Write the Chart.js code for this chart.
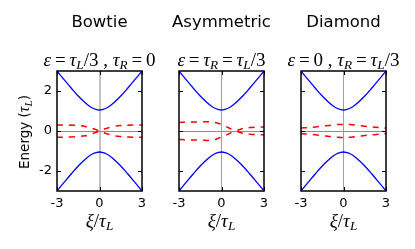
<!DOCTYPE html>
<html>
<head>
<meta charset="utf-8">
<script src="https://cdn.jsdelivr.net/npm/chart.js@4.4.0/dist/chart.umd.min.js"></script>
<style>
  body { margin: 0; background: #fff; }
  #wrap { position: relative; width: 415px; height: 249px; overflow: hidden; }
  canvas { position: absolute; top: 0; }
  .txt { position: absolute; transform: translate(-50%, -50%); white-space: nowrap; line-height: 1; color: #000; }
  .title { font-family: "DejaVu Sans", sans-serif; font-size: 16.5px; }
  .math { font-family: "Liberation Serif", serif; font-size: 19px; }
  .math i { font-style: italic; }
  .math sub { font-size: 70%; font-style: italic; vertical-align: -0.3em; line-height: 0; }
  .op { margin: 0 0.2em; }
  .ylab { font-family: "DejaVu Sans", sans-serif; font-size: 13.5px; transform: translate(-50%, -50%) rotate(-90deg); }
</style>
</head>
<body>
<div id="wrap"></div>
<script>
// shared x samples (xi / tau_L)
const xi = [-3, -2.5, -2, -1.5, -1, -0.75, -0.5, -0.25, 0, 0.25, 0.5, 0.75, 1, 1.5, 2, 2.5, 3];
const xTicks = [-3, 0, 3];
const yTicks = [-2, 0, 2];

// blue bands
const bandUp   = [3.0, 2.57, 2.15, 1.75, 1.41, 1.26, 1.15, 1.08, 1.05, 1.08, 1.15, 1.26, 1.41, 1.75, 2.15, 2.57, 3.0];
const bandDown = [-3.0, -2.57, -2.15, -1.75, -1.41, -1.26, -1.15, -1.08, -1.05, -1.08, -1.15, -1.26, -1.41, -1.75, -2.15, -2.57, -3.0];

// red dashed states, one pair per panel
const bowtieUp   = [0.3, 0.3, 0.29, 0.27, 0.23, 0.19, 0.13, 0.07, 0, 0.07, 0.13, 0.19, 0.23, 0.27, 0.29, 0.3, 0.3];
const bowtieDown = [-0.31, -0.31, -0.3, -0.28, -0.24, -0.19, -0.13, -0.07, 0, -0.07, -0.13, -0.19, -0.24, -0.28, -0.3, -0.31, -0.31];
const asymA = [0.43, 0.44, 0.45, 0.46, 0.46, 0.45, 0.43, 0.39, 0.33, 0.25, 0.16, 0.08, 0, -0.11, -0.16, -0.18, -0.19];
const asymB = [-0.42, -0.44, -0.45, -0.46, -0.47, -0.46, -0.43, -0.37, -0.3, -0.23, -0.15, -0.07, 0, 0.12, 0.17, 0.19, 0.2];
const diamondUp   = [0.15, 0.17, 0.2, 0.24, 0.28, 0.3, 0.32, 0.33, 0.33, 0.33, 0.32, 0.3, 0.28, 0.24, 0.2, 0.17, 0.15];
const diamondDown = [-0.13, -0.16, -0.19, -0.23, -0.27, -0.29, -0.31, -0.32, -0.33, -0.32, -0.31, -0.29, -0.27, -0.23, -0.19, -0.16, -0.13];

const names = ['Bowtie', 'Asymmetric', 'Diamond'];
const subtitles = [
  '<i>ε</i><span class="op">=</span><i>τ</i><sub>L</sub>/3 , <i>τ</i><sub>R</sub><span class="op">=</span>0',
  '<i>ε</i><span class="op">=</span><i>τ</i><sub>R</sub><span class="op">=</span><i>τ</i><sub>L</sub>/3',
  '<i>ε</i><span class="op">=</span>0 , <i>τ</i><sub>R</sub><span class="op">=</span><i>τ</i><sub>L</sub>/3'
];
const reds = [[bowtieUp, bowtieDown], [asymA, asymB], [diamondUp, diamondDown]];

const panelLeft = [57, 179, 301];
const panelW = 85, axisW = 50, padTop = 71, xAxisH = 58, H = 249;

function pts(ys) { return xi.map((x, i) => ({ x: x, y: ys[i] })); }

const frame = {
  id: 'frame',
  afterDatasetsDraw(chart) {
    const { ctx, chartArea: a, scales: { x, y } } = chart;
    ctx.save();
    ctx.strokeStyle = '#000';
    ctx.lineWidth = 1;
    ctx.beginPath();
    yTicks.forEach(v => {
      const py = Math.round(y.getPixelForValue(v)) + 0.5;
      ctx.moveTo(a.left, py); ctx.lineTo(a.left + 4, py);
      ctx.moveTo(a.right, py); ctx.lineTo(a.right - 4, py);
    });
    xTicks.forEach(v => {
      const px = Math.round(x.getPixelForValue(v)) + 0.5;
      ctx.moveTo(px, a.top); ctx.lineTo(px, a.top + 4);
      ctx.moveTo(px, a.bottom); ctx.lineTo(px, a.bottom - 4);
    });
    ctx.stroke();
    ctx.lineWidth = 1.5;
    ctx.strokeRect(a.left, a.top, a.right - a.left, a.bottom - a.top);
    ctx.restore();
  }
};

const wrap = document.getElementById('wrap');

function addText(cls, html, x, y) {
  const d = document.createElement('div');
  d.className = 'txt ' + cls;
  d.innerHTML = html;
  d.style.left = x + 'px';
  d.style.top = y + 'px';
  wrap.appendChild(d);
}

names.forEach((name, p) => {
  const cv = document.createElement('canvas');
  const w = axisW + panelW + 40;
  cv.width = w; cv.height = H;
  cv.style.left = (panelLeft[p] - axisW) + 'px';
  wrap.appendChild(cv);

  const first = p === 0;
  new Chart(cv, {
    type: 'line',
    data: {
      datasets: [
        { data: pts(bandUp), borderColor: '#0000ff', borderWidth: 1.3, tension: 0.4, pointRadius: 0 },
        { data: pts(bandDown), borderColor: '#0000ff', borderWidth: 1.3, tension: 0.4, pointRadius: 0 },
        { data: pts(reds[p][0]), borderColor: '#ff0000', borderWidth: 1.5, borderDash: [6, 6], tension: 0.4, pointRadius: 0 },
        { data: pts(reds[p][1]), borderColor: '#ff0000', borderWidth: 1.5, borderDash: [6, 6], tension: 0.4, pointRadius: 0 }
      ]
    },
    options: {
      responsive: false,
      animation: false,
      devicePixelRatio: 1,
      layout: { padding: { left: 0, right: 40, top: padTop, bottom: 0 } },
      plugins: { legend: { display: false }, tooltip: { enabled: false } },
      scales: {
        x: {
          type: 'linear', min: -3, max: 3,
          afterFit(s) { s.height = xAxisH; },
          afterBuildTicks(s) { s.ticks = xTicks.map(v => ({ value: v })); },
          border: { display: false },
          grid: {
            drawTicks: false,
            color: c => c.tick && c.tick.value === 0 ? (first ? '#c4c4c4' : '#a0a0a0') : 'rgba(0,0,0,0)',
            lineWidth: c => first ? 2 : 1
          },
          ticks: { color: '#000', padding: 5, maxRotation: 0, font: { family: 'DejaVu Sans', size: 13 } }
        },
        y: {
          min: -3, max: 3,
          afterFit(s) { s.width = axisW; },
          afterBuildTicks(s) { s.ticks = yTicks.map(v => ({ value: v })); },
          border: { display: false },
          grid: {
            drawTicks: false,
            color: c => c.tick && c.tick.value === 0 ? '#8c8c8c' : 'rgba(0,0,0,0)',
            lineWidth: 1
          },
          ticks: { display: first, color: '#000', padding: 5, font: { family: 'DejaVu Sans', size: 13 } }
        }
      }
    },
    plugins: [frame]
  });

  const cx = panelLeft[p] + panelW / 2;
  addText('title', name, cx, 22);
  addText('math', subtitles[p], cx, 59);
  addText('math', '<i>ξ</i>/<i>τ</i><sub>L</sub>', cx, 220);
});

addText('ylab', 'Energy (<span class="math" style="font-size:16px"><i>τ</i><sub>L</sub></span>)', 24, 132);
</script>
</body>
</html>
